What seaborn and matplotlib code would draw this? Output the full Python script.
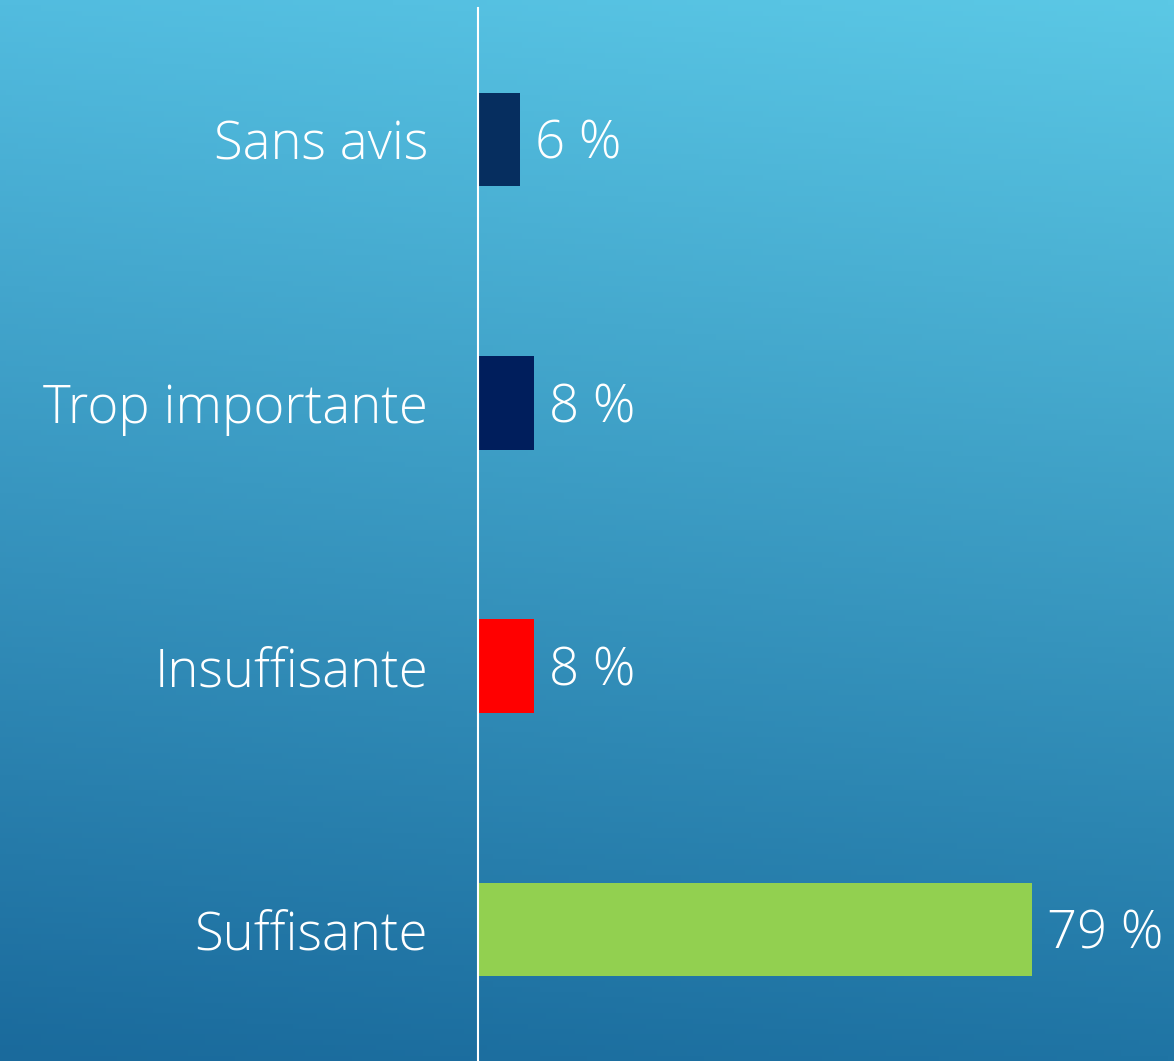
import numpy as np
import pandas as pd
import matplotlib
matplotlib.use("Agg")
import matplotlib.pyplot as plt
import seaborn as sns

categories = ["Sans avis", "Trop importante", "Insuffisante", "Suffisante"]
values = [6, 8, 8, 79]
bar_colors = ["#062E5F", "#001E5C", "#FF0000", "#92D050"]
value_labels = ["6 %", "8 %", "8 %", "79 %"]

sns.set_theme(style="white")
plt.rcParams['font.family'] = ['Open Sans', 'DejaVu Sans']

W, H = 1174, 1061
fig = plt.figure(figsize=(W / 100, H / 100), dpi=100)

# background gradient
bg = fig.add_axes([0, 0, 1, 1], zorder=-10)
ny, nx = 200, 200
yy, xx = np.mgrid[0:1:ny * 1j, 0:1:nx * 1j]
tl = np.array([0x52, 0xBC, 0xDF]) / 255
tr = np.array([0x5B, 0xC8, 0xE5]) / 255
bl = np.array([0x1A, 0x6A, 0x9C]) / 255
br = np.array([0x1F, 0x74, 0xA4]) / 255
img = (tl[None, None, :] * ((1 - yy) * (1 - xx))[..., None]
       + tr[None, None, :] * ((1 - yy) * xx)[..., None]
       + bl[None, None, :] * (yy * (1 - xx))[..., None]
       + br[None, None, :] * (yy * xx)[..., None])
bg.imshow(img, aspect="auto", extent=[0, 1, 0, 1], origin="upper")
bg.set_axis_off()

left = 478 / W
ax = fig.add_axes([left, 0, 1 - left, 1053 / H])
ax.patch.set_alpha(0)

df = pd.DataFrame({"cat": categories, "val": values})
sns.barplot(data=df, y="cat", x="val", hue="cat", palette=bar_colors,
            order=categories, hue_order=categories, width=0.355,
            legend=False, ax=ax, saturation=1, linewidth=0)

for cont, lab in zip(ax.containers, value_labels):
    anns = ax.bar_label(cont, labels=[lab], padding=11, color="white",
                        fontsize=38, fontweight="light")
    for a in anns:
        a.xyann = (11, -4)

ax.set_xlim(0, 99.3)
ax.set_ylim(3.5, -0.5)
ax.set_xlabel("")
ax.set_ylabel("")
ax.set_xticks([])
ax.tick_params(axis="y", length=0, pad=36)
for t in ax.get_yticklabels():
    t.set_color("white")
    t.set_fontsize(38)
    t.set_fontweight("light")
for s in ["top", "right", "bottom"]:
    ax.spines[s].set_visible(False)
ax.spines["left"].set_color("white")
ax.spines["left"].set_linewidth(1.5)

fig.savefig("out.png", dpi=100)
